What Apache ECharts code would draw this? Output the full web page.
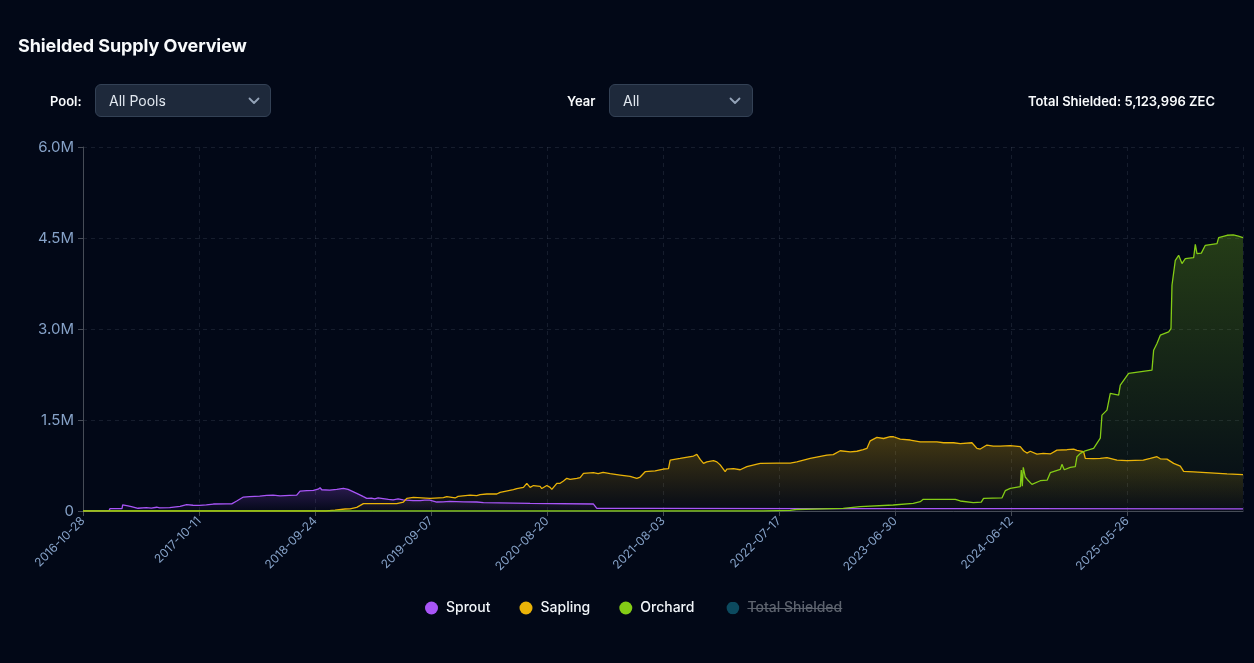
<!DOCTYPE html>
<html>
<head>
<meta charset="utf-8">
<script src="https://cdn.jsdelivr.net/npm/echarts@6/dist/echarts.min.js"></script>
<style>
  html, body { margin: 0; padding: 0; background: #020817; }
  body { width: 1254px; height: 663px; position: relative; overflow: hidden; font-family: Inter, "Noto Sans", sans-serif; }
  #chart { position: absolute; left: 0; top: 0; width: 1254px; height: 663px; }
  .abs { position: absolute; }
  .title { left: 18px; top: 35px; font-size: 18px; font-weight: 700; color: #f8fafc; letter-spacing: -0.1px; }
  .lbl { font-size: 13px; font-weight: 600; color: #f8fafc; top: 93px; }
  .sel { top: 84px; height: 31px; background: #1e293b; border: 1px solid #334155; border-radius: 6px; box-sizing: content-box; }
  .sel span { position: absolute; left: 13px; top: 7px; font-size: 14px; color: #e2e8f0; }
  .sel svg { position: absolute; top: 11px; }
  .total { top: 93px; right: 39px; font-size: 13px; font-weight: 600; color: #f8fafc; }
</style>
</head>
<body>
<div id="chart"></div>
<div class="abs title">Shielded Supply Overview</div>
<div class="abs lbl" style="left:50px">Pool:</div>
<div class="abs sel" style="left:95px;width:174px"><span>All Pools</span>
  <svg style="left:152px" width="12" height="10" viewBox="0 0 12 10"><path d="M1.5 2.5 L6 7 L10.5 2.5" fill="none" stroke="#94a3b8" stroke-width="1.8" stroke-linecap="round" stroke-linejoin="round"/></svg></div>
<div class="abs lbl" style="left:567px">Year</div>
<div class="abs sel" style="left:609px;width:142px"><span>All</span>
  <svg style="left:119px" width="12" height="10" viewBox="0 0 12 10"><path d="M1.5 2.5 L6 7 L10.5 2.5" fill="none" stroke="#94a3b8" stroke-width="1.8" stroke-linecap="round" stroke-linejoin="round"/></svg></div>
<div class="abs total">Total Shielded: 5,123,996 ZEC</div>
<script>
// x values are days since 2016-10-28 (the first tick label)
const xTickLabels = ['2016-10-28','2017-10-11','2018-09-24','2019-09-07','2020-08-20','2021-08-03','2022-07-17','2023-06-30','2024-06-12','2025-05-26'];
const tickStepDays = 348;
const lastDay = 3479;
const yTicks = [0, 1500000, 3000000, 4500000, 6000000];
const seriesNames = ['Sprout', 'Sapling', 'Orchard', 'Total Shielded'];

const sproutPoints = [[0,0],[78,2000],[81,40000],[117,40000],[119,100000],[135,85000],[145,72000],[165,45000],[190,55000],[205,48000],[221,62000],[230,50000],[260,55000],[291,75000],[311,104000],[330,95000],[350,92000],[370,100000],[391,115000],[430,118000],[446,118000],[461,165000],[481,230000],[500,238000],[530,245000],[551,258000],[570,262000],[591,248000],[620,258000],[641,262000],[651,329000],[671,335000],[691,340000],[705,360000],[711,385000],[716,350000],[740,345000],[761,355000],[781,373000],[795,355000],[821,291000],[841,236000],[851,209000],[865,212000],[875,200000],[885,215000],[900,205000],[916,192000],[930,185000],[945,200000],[960,185000],[990,172000],[1011,170000],[1025,180000],[1040,178000],[1061,148000],[1080,150000],[1100,160000],[1120,155000],[1140,150000],[1181,148000],[1201,137000],[1341,126000],[1531,115000],[1541,44000],[1700,42000],[2200,40000],[2800,38000],[3479,36000]];

const saplingPoints = [[0,0],[729,0],[756,15000],[786,33000],[801,35000],[821,60000],[841,121000],[941,121000],[961,148000],[971,209000],[991,225000],[1041,209000],[1081,220000],[1091,236000],[1116,215000],[1121,190000],[1125,240000],[1161,263000],[1181,255000],[1191,270000],[1211,280000],[1241,280000],[1251,307000],[1291,351000],[1301,370000],[1321,390000],[1331,456000],[1341,390000],[1351,420000],[1371,405000],[1376,370000],[1391,420000],[1401,390000],[1406,355000],[1421,456000],[1431,456000],[1441,494000],[1451,538000],[1461,520000],[1481,538000],[1491,550000],[1501,620000],[1531,631000],[1545,615000],[1560,635000],[1581,615000],[1611,593000],[1641,570000],[1661,538000],[1671,560000],[1686,648000],[1716,660000],[1741,692000],[1756,700000],[1761,840000],[1791,867000],[1831,906000],[1841,933000],[1851,850000],[1861,785000],[1871,810000],[1891,829000],[1901,810000],[1911,760000],[1926,648000],[1931,690000],[1951,700000],[1971,680000],[1991,730000],[2031,785000],[2081,790000],[2121,790000],[2141,810000],[2181,867000],[2231,922000],[2250,930000],[2271,993000],[2301,975000],[2321,985000],[2340,1010000],[2351,1032000],[2361,1157000],[2381,1213000],[2401,1195000],[2421,1224000],[2431,1224000],[2451,1185000],[2481,1170000],[2511,1141000],[2561,1141000],[2581,1125000],[2611,1125000],[2631,1110000],[2666,1125000],[2681,1032000],[2691,1021000],[2711,1087000],[2730,1070000],[2751,1070000],[2781,1076000],[2811,1060000],[2821,993000],[2831,955000],[2841,985000],[2861,938000],[2880,950000],[2901,940000],[2921,1004000],[2951,1010000],[2971,1020000],[2981,1000000],[3001,977000],[3006,867000],[3030,862000],[3051,867000],[3071,880000],[3101,840000],[3131,829000],[3180,840000],[3201,867000],[3221,895000],[3231,860000],[3251,855000],[3271,785000],[3291,740000],[3301,653000],[3331,645000],[3381,630000],[3431,612000],[3479,598000]];

const orchardPoints = [[0,0],[2040,0],[2121,10000],[2139,25000],[2280,44000],[2331,71000],[2430,99000],[2490,126000],[2511,154000],[2520,192000],[2616,192000],[2631,165000],[2670,137000],[2694,145000],[2701,209000],[2756,215000],[2766,335000],[2781,373000],[2811,400000],[2814,675000],[2817,410000],[2820,719000],[2826,560000],[2832,520000],[2846,439000],[2871,499000],[2892,510000],[2901,631000],[2931,686000],[2936,769000],[2943,680000],[2961,719000],[2976,730000],[2981,894000],[2991,950000],[3006,993000],[3031,1032000],[3036,1059000],[3051,1200000],[3056,1581000],[3071,1663000],[3081,1938000],[3106,1910000],[3111,2075000],[3136,2267000],[3206,2322000],[3211,2651000],[3221,2761000],[3231,2898000],[3256,2953000],[3263,3008000],[3266,3721000],[3276,4133000],[3286,4215000],[3296,4078000],[3306,4160000],[3331,4177000],[3336,4396000],[3341,4243000],[3354,4250000],[3366,4380000],[3401,4408000],[3406,4507000],[3431,4545000],[3450,4550000],[3465,4530000],[3479,4507000]];

const totalShieldedPoints = [[3479,5123996]];

const colors = { Sprout: '#a855f7', Sapling: '#eab308', Orchard: '#84cc16', 'Total Shielded': '#0c4a5f' };

function hexA(hex, a) {
  const n = parseInt(hex.slice(1), 16);
  return 'rgba(' + (n >> 16) + ',' + ((n >> 8) & 255) + ',' + (n & 255) + ',' + a + ')';
}
function areaGrad(hex, top) {
  return { type: 'linear', x: 0, y: 0, x2: 0, y2: 1,
    colorStops: [{ offset: 0, color: hexA(hex, top) }, { offset: 1, color: hexA(hex, 0.02) }] };
}
function mkSeries(name, pts, topAlpha) {
  return {
    name, type: 'line', data: pts, showSymbol: false, symbol: 'none', sampling: null,
    lineStyle: { width: 1.3, color: colors[name] },
    itemStyle: { color: colors[name] },
    areaStyle: { color: areaGrad(colors[name], topAlpha) },
    emphasis: { disabled: true }
  };
}

const totalIcon = 'image://data:image/svg+xml;charset=utf-8,' + encodeURIComponent(
  '<svg xmlns="http://www.w3.org/2000/svg" width="19" height="13" viewBox="0 0 19 13"><circle cx="9.5" cy="6.5" r="6.3" fill="' + colors['Total Shielded'] + '"/></svg>');

const strikeBg = { type: 'linear', x: 0, y: 0, x2: 0, y2: 1, colorStops: [
  { offset: 0, color: 'rgba(0,0,0,0)' }, { offset: 0.5, color: 'rgba(0,0,0,0)' },
  { offset: 0.5, color: '#5d636e' }, { offset: 0.6, color: '#5d636e' },
  { offset: 0.6, color: 'rgba(0,0,0,0)' }, { offset: 1, color: 'rgba(0,0,0,0)' }] };

const axisLabelColor = '#86a2c8';
const chart = echarts.init(document.getElementById('chart'), null, { renderer: 'canvas' });
chart.setOption({
  backgroundColor: '#020817',
  animation: false,
  textStyle: { fontFamily: 'Inter' },
  grid: { left: 83, right: 11, top: 147, bottom: 152, containLabel: false },
  legend: {
    left: 420, top: 596, itemWidth: 19, itemHeight: 13, itemGap: 29, icon: 'circle',
    inactiveColor: '#5d636e',
    textStyle: { color: '#f1f5f9', fontSize: 14, fontWeight: 500, fontFamily: 'Inter',
      rich: { off: { color: '#5d636e', fontSize: 14, fontWeight: 500, fontFamily: 'Inter', lineHeight: 14, backgroundColor: strikeBg } } },
    formatter: function (n) { return n === 'Total Shielded' ? '{off|' + n + '}' : n; },
    data: [
      { name: 'Sprout' }, { name: 'Sapling' }, { name: 'Orchard' },
      { name: 'Total Shielded', icon: totalIcon }
    ],
    selected: { 'Total Shielded': false }
  },
  xAxis: {
    type: 'value', min: 0, max: lastDay, interval: tickStepDays,
    axisLine: { show: true, lineStyle: { color: '#464c57' } },
    axisTick: { show: true, length: 5, lineStyle: { color: '#464c57' } },
    axisLabel: {
      rotate: 45, color: axisLabelColor, fontSize: 12, margin: 8, showMaxLabel: false,
      formatter: function (v) { const i = Math.round(v / tickStepDays); return (Math.abs(v - i * tickStepDays) < 1 && xTickLabels[i]) ? xTickLabels[i] : ''; }
    },
    splitLine: { show: true, lineStyle: { color: 'rgba(148,163,184,0.14)', type: [4, 4] } }
  },
  yAxis: {
    type: 'value', min: yTicks[0], max: yTicks[yTicks.length - 1], interval: yTicks[1] - yTicks[0],
    axisLine: { show: true, lineStyle: { color: '#464c57' } },
    axisTick: { show: true, length: 5, lineStyle: { color: '#464c57' } },
    axisLabel: { color: axisLabelColor, fontSize: 15, margin: 9,
      formatter: function (v) { return v === 0 ? '0' : (v / 1e6).toFixed(1) + 'M'; } },
    splitLine: { show: true, lineStyle: { color: 'rgba(148,163,184,0.14)', type: [4, 4] } }
  },
  series: [
    mkSeries('Sprout', sproutPoints, 0.34),
    mkSeries('Sapling', saplingPoints, 0.4),
    mkSeries('Orchard', orchardPoints, 0.38),
    mkSeries('Total Shielded', totalShieldedPoints, 0.2)
  ]
});
</script>
</body>
</html>
